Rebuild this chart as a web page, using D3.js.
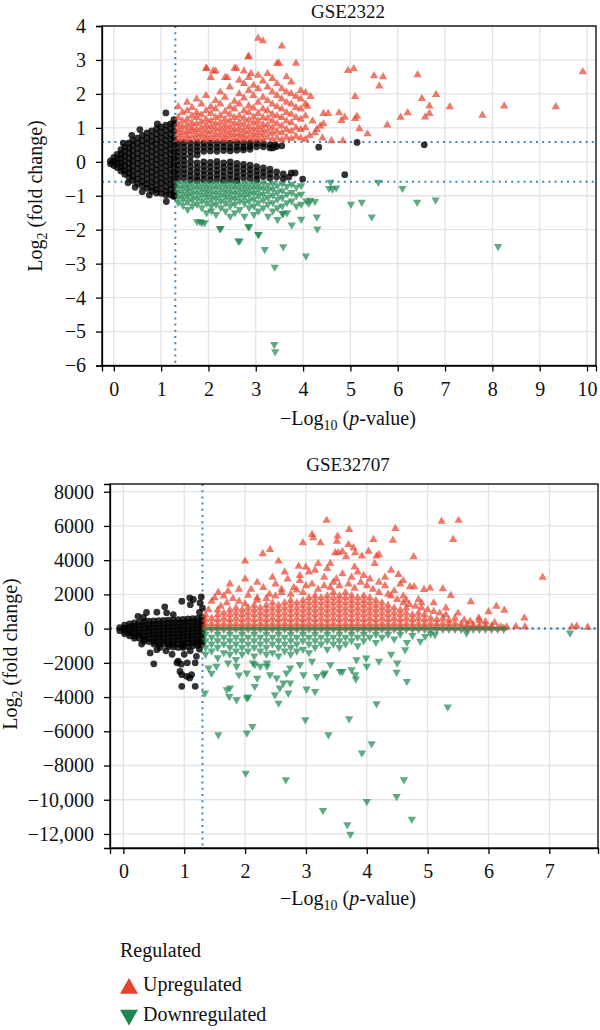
<!DOCTYPE html>
<html lang="en">
<head>
<meta charset="UTF-8">
<title>Volcano plots GSE2322 / GSE32707</title>
<script src="https://d3js.org/d3.v7.min.js"></script>
<style>
  body { margin: 0; background: #fff; }
  svg text { font-family: "Liberation Serif", "Times New Roman", serif; fill: #111; }
</style>
</head>
<body>
<script>
// ---------- data: GSE2322 (x = -log10 p, y = log2 FC) ----------
// dense clouds are written as columns [x, [y, y, ...]], single points as [x, y]
const gse2322NsCols = [
  [-0.07, [0.03, -0.06]],
  [0.0, [0.13, 0.01, -0.11]],
  [0.07, [0.22, 0.09, -0.04, -0.17]],
  [0.15, [0.36, 0.23, 0.1, -0.03, -0.16, -0.27]],
  [0.23, [0.44, 0.3, 0.16, 0.02, -0.12, -0.26, -0.37]],
  [0.32, [0.56, 0.41, 0.26, 0.11, -0.04, -0.19, -0.33, -0.46]],
  [0.4, [0.63, 0.48, 0.33, 0.18, 0.03, -0.12, -0.27, -0.42, -0.55]],
  [0.5, [0.7, 0.55, 0.4, 0.25, 0.1, -0.05, -0.2, -0.35, -0.5, -0.64]],
  [0.6, [0.78, 0.62, 0.47, 0.32, 0.17, 0.02, -0.13, -0.28, -0.43, -0.58, -0.71]],
  [0.7, [0.85, 0.7, 0.55, 0.4, 0.25, 0.1, -0.05, -0.2, -0.35, -0.5, -0.65, -0.78]],
  [0.8, [0.91, 0.75, 0.6, 0.45, 0.3, 0.15, 0.0, -0.15, -0.3, -0.45, -0.6, -0.74, -0.86]],
  [0.9, [0.97, 0.82, 0.67, 0.52, 0.37, 0.22, 0.07, -0.08, -0.23, -0.38, -0.53, -0.68, -0.82, -0.92]],
  [1.0, [1.02, 0.87, 0.72, 0.57, 0.42, 0.27, 0.12, -0.03, -0.18, -0.33, -0.48, -0.63, -0.78, -0.93]],
  [1.1, [1.08, 0.93, 0.78, 0.63, 0.48, 0.33, 0.18, 0.03, -0.12, -0.27, -0.42, -0.57, -0.72, -0.87, -0.98]],
  [1.2, [1.12, 0.97, 0.82, 0.67, 0.52, 0.37, 0.22, 0.07, -0.08, -0.23, -0.38, -0.53, -0.68, -0.83, -0.97]],
  [1.27, [1.1, 0.9, 0.7, 0.5, 0.3, 0.1, -0.1, -0.3, -0.5, -0.7, -0.9, -1.0]],
  [1.35, [0.55, 0.42, 0.29, 0.16, 0.03, -0.1, -0.23, -0.36, -0.49]],
  [1.48, [0.56, 0.43, 0.3, 0.17, 0.04, -0.09, -0.22, -0.35, -0.48]],
  [1.62, [0.55, 0.42, 0.3, 0.16, 0.0, -0.14, -0.28, -0.41, -0.53]],
  [1.76, [0.56, 0.44, 0.32, 0.2, -0.03, -0.17, -0.3, -0.43, -0.54]],
  [1.9, [0.55, 0.43, 0.31, 0.0, -0.13, -0.26, -0.39, -0.52]],
  [2.04, [0.56, 0.44, 0.32, -0.02, -0.15, -0.28, -0.41, -0.53]],
  [2.18, [0.55, 0.43, 0.31, 0.01, -0.12, -0.25, -0.38, -0.51]],
  [2.32, [0.56, 0.44, 0.33, -0.03, -0.16, -0.29, -0.42, -0.54]],
  [2.46, [0.55, 0.42, 0.32, 0.0, -0.13, -0.26, -0.39, -0.52]],
  [2.6, [0.56, 0.44, 0.34, -0.05, -0.18, -0.31, -0.44, -0.55]],
  [2.74, [0.55, 0.43, 0.35, -0.08, -0.21, -0.34, -0.47]],
  [2.88, [0.56, 0.45, 0.37, -0.1, -0.23, -0.36, -0.49]],
  [3.02, [0.55, 0.44, -0.14, -0.27, -0.4, -0.52]],
  [3.16, [0.54, 0.44, -0.18, -0.31, -0.44]],
  [3.3, [0.5, 0.41, -0.22, -0.35, -0.48]],
  [3.44, [0.45, -0.3, -0.45]],
  [3.58, [-0.36, -0.5]],
  [3.75, [-0.33]]
];
const gse2322NsExtra = [
  [1.1, 1.44], [0.55, 0.95], [0.38, 0.78], [1.27, 1.24], [1.11, -1.17], [1.27, -1.02],
  [0.6, -0.88], [0.3, -0.62], [0.92, 1.12], [0.75, -0.98], [0.2, 0.55], [0.45, -0.75],
  [3.36, 0.41], [3.4, 0.5], [4.33, 0.43], [5.14, 0.57], [6.56, 0.5], [4.88, -0.38],
  [3.99, -0.51], [3.83, -0.33], [3.7, -0.45], [3.55, 0.47]
];
const gse2322UpCols = [
  [1.36, [0.66, 0.8, 0.95, 1.1, 1.3, 1.62]],
  [1.45, [0.7, 0.86, 1.02, 1.2, 1.45]],
  [1.55, [0.65, 0.78, 0.92, 1.08, 1.25, 1.5, 1.75]],
  [1.65, [0.72, 0.88, 1.0, 1.15, 1.35, 1.6]],
  [1.75, [0.66, 0.8, 0.95, 1.12, 1.3, 1.45, 1.85]],
  [1.85, [0.7, 0.84, 1.0, 1.18, 1.38, 1.7]],
  [1.95, [0.65, 0.78, 0.93, 1.08, 1.25, 1.5, 1.95, 2.75]],
  [2.05, [0.72, 0.88, 1.04, 1.2, 1.42, 1.62, 2.48]],
  [2.15, [0.66, 0.8, 0.96, 1.12, 1.3, 1.55, 1.8, 2.67]],
  [2.25, [0.7, 0.85, 1.0, 1.17, 1.36, 1.7, 2.05]],
  [2.35, [0.65, 0.78, 0.93, 1.08, 1.25, 1.48, 1.9, 2.48]],
  [2.45, [0.72, 0.86, 1.02, 1.2, 1.4, 1.62, 2.2]],
  [2.55, [0.66, 0.8, 0.95, 1.12, 1.3, 1.55, 1.78, 2.75]],
  [2.65, [0.7, 0.84, 1.0, 1.16, 1.35, 1.7, 2.0, 2.4]],
  [2.75, [0.65, 0.78, 0.93, 1.1, 1.28, 1.5, 1.88, 2.3, 2.67]],
  [2.85, [0.72, 0.88, 1.04, 1.22, 1.45, 1.65, 2.1, 2.48, 3.1]],
  [2.95, [0.66, 0.8, 0.96, 1.14, 1.32, 1.58, 1.95, 2.25]],
  [3.05, [0.7, 0.86, 1.02, 1.2, 1.42, 1.75, 2.15, 2.55, 3.64]],
  [3.15, [0.65, 0.8, 0.95, 1.1, 1.3, 1.55, 1.9, 2.38, 3.56]],
  [3.25, [0.72, 0.9, 1.08, 1.28, 1.5, 1.8, 2.2, 2.6]],
  [3.35, [0.66, 0.84, 1.0, 1.2, 1.4, 1.7, 2.05, 2.45]],
  [3.45, [0.7, 0.9, 1.12, 1.35, 1.62, 1.95, 2.3, 2.9]],
  [3.55, [0.65, 0.85, 1.05, 1.3, 1.55, 1.85, 2.15, 3.41]],
  [3.65, [0.72, 0.95, 1.2, 1.45, 1.75, 2.05, 2.5]],
  [3.75, [0.68, 0.9, 1.15, 1.4, 1.7, 2.0, 2.35]],
  [3.85, [0.75, 1.0, 1.3, 1.6, 1.92, 2.9]],
  [3.95, [0.7, 0.95, 1.25, 1.55, 1.85, 2.1]],
  [4.05, [0.66, 1.0, 1.35, 1.7, 2.03]]
];
const gse2322UpExtra = [
  [4.95, 2.69], [5.07, 2.74], [5.5, 2.53], [5.69, 2.5], [5.61, 2.23], [6.42, 2.56], [9.91, 2.65],
  [5.1, 1.92], [4.16, 1.92], [4.09, 1.63], [4.43, 1.42], [4.53, 1.42], [4.76, 1.44], [4.81, 1.21],
  [4.88, 1.31], [5.1, 1.27], [5.14, 1.34], [5.19, 0.97], [5.36, 0.82], [5.78, 1.08], [6.06, 1.31],
  [6.21, 1.44], [6.51, 1.86], [6.67, 1.64], [6.81, 1.98], [6.67, 1.42], [6.58, 1.32], [7.1, 1.62],
  [7.79, 1.37], [8.25, 1.64], [9.34, 1.62], [4.36, 1.05], [4.29, 0.95], [4.43, 1.12], [4.14, 0.77],
  [4.41, 0.7], [4.6, 0.62], [4.84, 0.62], [4.2, 1.2], [4.25, 0.85], [2.84, 3.09], [3.49, 2.9],
  [1.96, 2.75], [2.1, 2.67], [2.59, 2.75], [2.4, 2.48], [2.9, 2.6]
];
const gse2322DownCols = [
  [1.36, [-0.62, -0.76, -0.9, -1.05, -1.2]],
  [1.46, [-0.66, -0.8, -0.95, -1.1, -1.28]],
  [1.56, [-0.62, -0.75, -0.88, -1.02, -1.18, -1.4]],
  [1.66, [-0.67, -0.82, -0.97, -1.12, -1.3]],
  [1.76, [-0.63, -0.77, -0.92, -1.08, -1.25, -1.76]],
  [1.86, [-0.68, -0.83, -0.98, -1.15, -1.35, -1.79]],
  [1.96, [-0.62, -0.76, -0.9, -1.05, -1.22, -1.5]],
  [2.06, [-0.67, -0.82, -0.97, -1.12, -1.3, -1.45]],
  [2.16, [-0.63, -0.77, -0.92, -1.08, -1.25, -1.55]],
  [2.26, [-0.68, -0.83, -0.98, -1.15, -1.35, -1.96]],
  [2.36, [-0.62, -0.76, -0.9, -1.05, -1.22, -1.45]],
  [2.46, [-0.67, -0.82, -0.97, -1.12, -1.3, -1.6]],
  [2.56, [-0.63, -0.77, -0.92, -1.08, -1.25, -1.5]],
  [2.66, [-0.68, -0.83, -0.98, -1.15, -1.4, -2.33]],
  [2.76, [-0.62, -0.76, -0.9, -1.05, -1.22, -1.6]],
  [2.86, [-0.67, -0.82, -0.97, -1.15, -1.35, -1.91]],
  [2.96, [-0.63, -0.77, -0.92, -1.1, -1.3, -1.55]],
  [3.06, [-0.68, -0.83, -1.0, -1.2, -1.45, -2.14]],
  [3.16, [-0.62, -0.78, -0.95, -1.12, -1.35]],
  [3.26, [-0.68, -0.85, -1.05, -1.25, -1.6]],
  [3.36, [-0.63, -0.8, -0.98, -1.2, -1.45]],
  [3.46, [-0.7, -0.9, -1.1, -1.35, -1.7]],
  [3.56, [-0.64, -0.85, -1.05, -1.3, -1.52]],
  [3.66, [-0.72, -0.95, -1.2, -1.5]],
  [3.76, [-0.66, -0.9, -1.15, -1.86]],
  [3.86, [-0.75, -1.0, -1.3]],
  [3.96, [-0.7, -0.95, -1.25, -1.69]]
];
const gse2322DownExtra = [
  [1.82, -1.76], [1.92, -1.79], [2.24, -1.96], [2.63, -2.33], [3.05, -2.14], [3.19, -2.58],
  [3.58, -2.5], [3.4, -3.1], [3.39, -5.38], [3.41, -5.59], [2.84, -1.91], [3.58, -1.52],
  [4.58, -0.6], [5.59, -0.6], [4.55, -0.78], [4.62, -0.8], [4.7, -0.77], [6.1, -0.78],
  [4.07, -1.15], [4.15, -1.13], [4.25, -1.17], [5.01, -1.25], [5.24, -1.19], [6.41, -1.19],
  [6.8, -1.12], [4.29, -1.62], [5.45, -1.62], [4.3, -1.98], [4.06, -2.77], [8.12, -2.49], [4.12, -1.22]
];

// ---------- data: GSE32707 ----------
const gse32707NsCols = [
  [-0.06, [60, -120]],
  [0.02, [200, 20, -160, -300]],
  [0.1, [280, 100, -80, -260, -420]],
  [0.18, [330, 140, -50, -240, -420, -560]],
  [0.26, [380, 190, 0, -190, -380, -560]],
  [0.34, [400, 200, 0, -200, -400, -600, -740]],
  [0.42, [430, 230, 30, -170, -370, -570, -760]],
  [0.5, [450, 250, 50, -150, -350, -550, -750, -900]],
  [0.58, [460, 260, 60, -140, -340, -540, -740, -920]],
  [0.66, [480, 280, 80, -120, -320, -520, -720, -900]],
  [0.74, [500, 300, 100, -100, -300, -500, -700, -900, -1050]],
  [0.82, [500, 300, 100, -100, -300, -500, -700, -900, -1080]],
  [0.9, [520, 320, 120, -80, -280, -480, -680, -880, -1100]],
  [0.98, [540, 340, 140, -60, -260, -460, -660, -860, -1100]],
  [1.06, [560, 360, 160, -40, -240, -440, -640, -840, -1050]],
  [1.14, [580, 380, 180, -20, -220, -420, -620, -820, -1000]],
  [1.22, [600, 400, 200, 0, -200, -400, -600, -800, -980]],
  [1.29, [650, 450, 250, 50, -150, -350, -550, -750, -900]]
];
const gse32707NsExtra = [
  [0.68, 1270], [0.96, 1600], [1.1, 1400], [1.15, 1700], [1.28, 1850], [1.09, 1800], [1.26, 1500],
  [1.3, 1200], [1.25, 950], [0.38, 940], [0.55, 960], [0.71, 920], [0.24, 720], [0.33, 650],
  [0.82, 820], [0.5, -2060], [0.88, -2000], [0.95, -2080], [1.05, -2000], [1.18, -2000],
  [0.96, -2690], [1.12, -2690], [0.96, -3370], [1.18, -3370], [1.09, -2880], [0.44, -1420],
  [0.55, -1230], [0.9, -1900], [0.93, -2500], [1.04, -2790], [0.98, -1030], [1.2, -1620],
  [0.7, -1300], [0.8, -1500], [1.1, -1300], [1.25, -1200], [0.3, -900], [0.6, -1100], [1.0, -1500]
];
const gse32707UpCols = [
  [1.35, [30, 260, 520, 800]], [1.45, [30, 300, 600]], [1.55, [30, 260, 520, 800, 1080]],
  [1.65, [30, 300, 600, 900]], [1.75, [30, 260, 520, 800, 1080]], [1.85, [30, 300, 600, 900, 1200]],
  [1.95, [30, 260, 520, 800, 1080]], [2.05, [30, 300, 600, 900, 1200]],
  [2.15, [30, 260, 520, 800, 1080, 1360]], [2.25, [30, 300, 600, 900, 1200]],
  [2.35, [30, 260, 520, 800, 1080, 1360]], [2.45, [30, 300, 600, 900, 1200, 1500]],
  [2.55, [30, 260, 520, 800, 1080, 1360]], [2.65, [30, 300, 600, 900, 1200, 1500]],
  [2.75, [30, 260, 520, 800, 1080, 1360, 1640]], [2.85, [30, 300, 600, 900, 1200, 1500]],
  [2.95, [30, 260, 520, 800, 1080, 1360, 1640]], [3.05, [30, 300, 600, 900, 1200, 1500, 1800]],
  [3.15, [30, 260, 520, 800, 1080, 1360, 1640, 1920]], [3.25, [30, 300, 600, 900, 1200, 1500, 1800]],
  [3.35, [30, 260, 520, 800, 1080, 1360, 1640, 1920]], [3.45, [30, 300, 600, 900, 1200, 1500, 1800, 2100]],
  [3.55, [30, 260, 520, 800, 1080, 1360, 1640, 1920]], [3.65, [30, 300, 600, 900, 1200, 1500, 1800, 2100]],
  [3.75, [30, 260, 520, 800, 1080, 1360, 1640, 1920]], [3.85, [30, 300, 600, 900, 1200, 1500, 1800]],
  [3.95, [30, 260, 520, 800, 1080, 1360, 1640, 1920]], [4.05, [30, 300, 600, 900, 1200, 1500, 1800]],
  [4.15, [30, 260, 520, 800, 1080, 1360, 1640]], [4.25, [30, 300, 600, 900, 1200, 1500]],
  [4.35, [30, 260, 520, 800, 1080, 1360]], [4.45, [30, 300, 600, 900, 1200]],
  [4.55, [30, 260, 520, 800, 1080]], [4.65, [30, 300, 600, 900, 1200]],
  [4.75, [30, 260, 520, 800]], [4.85, [30, 300, 600, 900]], [4.95, [30, 260, 520, 800]],
  [5.05, [30, 300, 600]], [5.15, [30, 260, 520]], [5.25, [30, 300, 600]], [5.35, [30, 260, 480]],
  [5.45, [30, 300]], [5.55, [30, 260]], [5.65, [30, 250]], [5.75, [30, 220]], [5.85, [30, 200]],
  [5.95, [30, 180]], [6.05, [30, 150]], [6.15, [30]], [6.25, [30]]
];
const gse32707UpExtra = [
  [3.34, 6320], [3.71, 5790], [4.47, 5850], [4.11, 5200], [4.43, 5160], [3.52, 5400], [3.51, 5100],
  [3.48, 4430], [3.53, 4430], [3.7, 4910], [3.78, 4720], [3.81, 4430], [4.03, 4520], [3.92, 4230],
  [4.16, 4230], [4.13, 3800], [4.2, 4320], [4.77, 4190], [4.52, 3160], [5.23, 6270], [5.51, 6320],
  [5.42, 5200], [6.89, 3000], [4.71, 2440], [4.78, 2440], [4.94, 2280], [5.04, 2360], [5.25, 2320],
  [5.38, 1930], [5.71, 1560], [6.13, 1300], [6.0, 980], [6.26, 1070], [6.59, 620], [5.84, 620],
  [5.85, 470], [3.1, 5500], [3.12, 5300], [2.95, 5010], [3.24, 5010], [2.29, 4370], [2.41, 4620],
  [2.0, 3940], [2.55, 3940], [2.88, 3640], [3.0, 3600], [3.2, 3800], [3.35, 3500], [3.05, 3300],
  [3.6, 4500], [3.66, 4200], [1.56, 2100], [1.65, 1900], [1.72, 2180], [1.8, 1750], [1.5, 1800],
  [2.05, 1950], [2.2, 1800], [2.4, 2000], [2.6, 2100], [2.8, 2400], [2.7, 2900], [2.9, 2800],
  [3.1, 2600], [3.3, 3000], [3.45, 2700], [3.6, 3200], [3.75, 3000], [3.9, 2700], [4.05, 2900],
  [4.3, 2500], [4.45, 2200], [4.6, 1900], [4.85, 1700], [5.1, 1500], [5.3, 1200], [5.5, 900],
  [4.9, 1500], [4.65, 1650], [4.4, 1900], [4.2, 2100], [2.3, 2400], [1.9, 2300], [1.45, 1600],
  [2.5, 2600], [2.1, 2300], [6.2, 100], [6.3, 90], [6.45, 120], [6.6, 110], [7.37, 100],
  [7.45, 130], [7.63, 80],
  [1.4, 1100], [1.6, 1300], [1.7, 1500], [1.9, 1600], [2.0, 1450], [2.2, 1650], [2.35, 1750],
  [2.5, 1900], [2.6, 2300], [2.75, 2000], [2.85, 2250], [2.95, 2100], [3.0, 2500], [3.2, 2300],
  [3.3, 2500], [3.4, 2400], [3.5, 2900], [3.55, 2500], [3.7, 2600], [3.8, 2350], [3.85, 3300],
  [3.95, 3100], [4.0, 2500], [4.1, 2300], [4.2, 2700], [4.3, 3000], [4.35, 2000], [4.5, 1700],
  [4.55, 2600], [4.6, 1500], [4.7, 1400], [4.8, 1300], [4.9, 1200], [5.0, 1100], [5.1, 1000],
  [5.2, 900], [5.3, 800], [5.45, 600], [5.6, 500], [5.7, 430], [5.95, 400], [6.1, 350],
  [2.2, 2700], [2.45, 3000], [2.65, 3300], [2.9, 3100], [3.15, 3400], [3.4, 3800], [3.8, 3600],
  [4.4, 3400], [4.6, 2800], [1.75, 2600], [2.0, 2900]
];
const gse32707DownCols = [
  [1.35, [-30, -330, -700, -1100, -1500]], [1.45, [-30, -500, -900, -1300]],
  [1.55, [-30, -330, -700, -1100, -1700]], [1.65, [-30, -500, -900, -1400]],
  [1.75, [-30, -330, -700, -1100, -1500]], [1.85, [-30, -500, -900, -1300, -1800]],
  [1.95, [-30, -330, -700, -1100, -1500]], [2.05, [-30, -500, -900, -1300]],
  [2.15, [-30, -330, -700, -1100, -1600]], [2.25, [-30, -500, -900, -1300]],
  [2.35, [-30, -330, -700, -1100, -1500]], [2.45, [-30, -500, -900, -1400]],
  [2.55, [-30, -330, -700, -1100, -1600]], [2.65, [-30, -500, -900, -1300]],
  [2.75, [-30, -330, -700, -1100, -1500]], [2.85, [-30, -500, -900, -1300]],
  [2.95, [-30, -330, -700, -1200]], [3.05, [-30, -500, -900, -1400]],
  [3.15, [-30, -330, -700, -1100]], [3.25, [-30, -500, -900]], [3.35, [-30, -330, -700, -1200]],
  [3.45, [-30, -500, -900]], [3.55, [-30, -330, -700, -1100]], [3.65, [-30, -500, -900]],
  [3.75, [-30, -330, -700]], [3.85, [-30, -500, -1000]], [3.95, [-30, -330, -700]],
  [4.05, [-30, -500]], [4.15, [-30, -330, -800]], [4.25, [-30, -500]], [4.35, [-30, -330]],
  [4.45, [-30, -600]], [4.55, [-30, -330]], [4.65, [-30]], [4.75, [-30, -400]], [4.85, [-30]],
  [4.95, [-30]], [5.05, [-30, -300]], [5.15, [-30]], [5.25, [-30]], [5.35, [-30]], [5.45, [-30]],
  [5.55, [-30]], [5.65, [-30]], [5.75, [-30]], [5.85, [-30]], [5.95, [-30]], [6.05, [-30]],
  [6.15, [-30]], [6.25, [-30]]
];
const gse32707DownExtra = [
  [1.34, -3760], [1.56, -6200], [2.03, -6100], [2.12, -5710], [2.01, -8440], [2.67, -8830],
  [1.74, -3960], [1.75, -3470], [1.86, -4150], [2.05, -3990], [2.16, -3370], [2.41, -2690],
  [2.52, -2880], [2.57, -3470], [2.55, -4350], [2.49, -3860], [2.71, -3760], [2.63, -3180],
  [2.68, -2590], [2.36, -2200], [2.25, -2200], [2.74, -2300], [1.53, -2200], [1.72, -2000],
  [1.86, -2200], [2.03, -2590], [2.16, -2100], [2.96, -2690], [3.01, -3530], [3.15, -3670],
  [3.29, -2690], [3.31, -2590], [3.6, -2500], [3.81, -2690], [3.82, -2940], [4.49, -2550],
  [4.66, -3080], [4.16, -4390], [5.33, -4580], [2.99, -5320], [3.71, -5260], [3.37, -6200],
  [4.08, -6720], [3.92, -7270], [4.61, -8830], [4.49, -9810], [4.0, -10100], [3.28, -10630],
  [4.74, -11130], [3.68, -11460], [3.73, -12010], [1.7, -3570], [2.03, -4050], [2.74, -3180],
  [3.18, -2790], [3.56, -2500], [3.75, -2400], [2.13, -2000], [2.36, -2000], [3.99, -1710],
  [3.83, -1810], [4.66, -800], [4.63, -1230], [4.88, -740], [4.96, -450], [5.12, -350],
  [5.64, -250], [7.34, -250], [1.45, -2600], [1.4, -2300], [1.9, -2700], [2.2, -2900],
  [2.9, -2100], [3.4, -2100], [3.1, -1900], [4.2, -1900], [4.4, -1500], [4.5, -2000], [4.0, -2200]
];

const gse2322XTicks = d3.range(0, 11);
const gse2322YTicks = [4, 3, 2, 1, 0, -1, -2, -3, -4, -5, -6];
const gse32707XTicks = d3.range(0, 8);
const gse32707YTicks = [8000, 6000, 4000, 2000, 0, -2000, -4000, -6000, -8000, -10000, -12000];
const pCut = 1.3;          // -log10(0.05)
const fcCut = [0.585, -0.585];

const legendItems = ["Upregulated", "Downregulated"];
const colors = { ns: "#000000", up: "#e8412c", down: "#1d8750" };

// ---------- drawing ----------
const flat = cols => cols.flatMap(([x, ys]) => ys.map(y => [x, y]));
const minus = "\u2212";
const FONT = 20;

const svg = d3.select("body").append("svg")
  .attr("width", 600).attr("height", 1030);

function fmtY(d) {
  if (d === 0) return "0";
  const a = Math.abs(d);
  const s = a >= 10000 ? d3.format(",")(a) : String(a);
  return (d < 0 ? minus : "") + s;
}

function drawPanel(p) {
  const x = d3.scaleLinear().domain(p.xDomain).range([p.left, p.right]);
  const y = d3.scaleLinear().domain(p.yDomain).range([p.bottom, p.top]);
  const g = svg.append("g");

  // grid
  g.append("g").selectAll("line").data(p.xTicks).join("line")
    .attr("x1", d => x(d)).attr("x2", d => x(d))
    .attr("y1", p.top).attr("y2", p.bottom)
    .attr("stroke", "#e2e2e2").attr("stroke-width", 1.3);
  g.append("g").selectAll("line").data(p.yTicks).join("line")
    .attr("y1", d => y(d)).attr("y2", d => y(d))
    .attr("x1", p.left).attr("x2", p.right)
    .attr("stroke", "#e2e2e2").attr("stroke-width", 1.3);

  // thresholds
  const th = g.append("g").attr("stroke", "#3b87c6").attr("stroke-width", 2)
    .attr("stroke-dasharray", "2,4.2");
  th.append("line").attr("x1", x(pCut)).attr("x2", x(pCut))
    .attr("y1", p.top).attr("y2", p.bottom);
  th.selectAll("line.h").data(fcCut).join("line").attr("class", "h")
    .attr("x1", p.left).attr("x2", p.right)
    .attr("y1", d => y(d)).attr("y2", d => y(d));

  // points
  const pts = g.append("g");
  pts.append("g").selectAll("circle").data(p.ns).join("circle")
    .attr("cx", d => x(d[0])).attr("cy", d => y(d[1])).attr("r", 3.4)
    .attr("fill", colors.ns).attr("fill-opacity", 0.8);
  const tri = d3.symbol().type(d3.symbolTriangle).size(30);
  pts.append("g").selectAll("path").data(p.up).join("path")
    .attr("d", tri)
    .attr("transform", d => `translate(${x(d[0])},${y(d[1])})`)
    .attr("fill", colors.up).attr("fill-opacity", 0.7);
  pts.append("g").selectAll("path").data(p.down).join("path")
    .attr("d", tri)
    .attr("transform", d => `translate(${x(d[0])},${y(d[1])}) rotate(180)`)
    .attr("fill", colors.down).attr("fill-opacity", 0.7);

  // frame
  g.append("rect").attr("x", p.left).attr("y", p.top)
    .attr("width", p.right - p.left).attr("height", p.bottom - p.top)
    .attr("fill", "none").attr("stroke", "#000").attr("stroke-width", 1.3);

  // axes
  const ax = g.append("g").attr("transform", `translate(0,${p.bottom})`)
    .call(d3.axisBottom(x).tickValues(p.xTicks).tickSize(6).tickSizeOuter(6).tickPadding(10)
      .tickFormat(d3.format("d")));
  const ay = g.append("g").attr("transform", `translate(${p.left},0)`)
    .call(d3.axisLeft(y).tickValues(p.yTicks).tickSize(6).tickSizeOuter(6).tickPadding(10)
      .tickFormat(fmtY));
  [ax, ay].forEach(a => {
    a.selectAll("path, line").attr("stroke", "#000").attr("stroke-width", 1.3);
    a.selectAll("text").attr("font-size", FONT)
      .style("font-family", "'Liberation Serif', serif").attr("fill", "#111");
  });

  // title
  g.append("text").attr("x", 348).attr("y", p.titleY)
    .attr("text-anchor", "middle").attr("font-size", 19).text(p.title);

  // x label: −Log10 (p-value)
  const xl = g.append("text").attr("x", 348).attr("y", p.xLabelY)
    .attr("text-anchor", "middle").attr("font-size", FONT);
  xl.append("tspan").text(minus + "Log");
  xl.append("tspan").attr("dy", 5).attr("font-size", 14).text("10");
  xl.append("tspan").attr("dy", -5).text(" (");
  xl.append("tspan").attr("font-style", "italic").text("p");
  xl.append("tspan").text("-value)");

  // y label: Log2 (fold change)
  const yl = g.append("text")
    .attr("transform", `translate(${p.yLabelX},${p.yLabelY}) rotate(-90)`)
    .attr("text-anchor", "middle").attr("font-size", FONT);
  yl.append("tspan").text("Log");
  yl.append("tspan").attr("dy", 5).attr("font-size", 14).text("2");
  yl.append("tspan").attr("dy", -5).text(" (fold change)");
}

drawPanel({
  title: "GSE2322", titleY: 17.5, xLabelY: 425, yLabelX: 42, yLabelY: 196,
  left: 102, right: 596, top: 26, bottom: 365.5,
  xDomain: [-0.25, 10.19], yDomain: [-6, 4],
  xTicks: gse2322XTicks, yTicks: gse2322YTicks,
  ns: flat(gse2322NsCols).concat(gse2322NsExtra),
  up: flat(gse2322UpCols).concat(gse2322UpExtra),
  down: flat(gse2322DownCols).concat(gse2322DownExtra)
});

drawPanel({
  title: "GSE32707", titleY: 471, xLabelY: 905, yLabelX: 17, yLabelY: 654,
  left: 110, right: 598, top: 484, bottom: 848,
  xDomain: [-0.22, 7.8], yDomain: [-12820, 8450],
  xTicks: gse32707XTicks, yTicks: gse32707YTicks,
  ns: flat(gse32707NsCols).concat(gse32707NsExtra),
  up: flat(gse32707UpCols).concat(gse32707UpExtra),
  down: flat(gse32707DownCols).concat(gse32707DownExtra)
});

// legend
const lg = svg.append("g");
lg.append("text").attr("x", 120).attr("y", 957).attr("font-size", FONT).text("Regulated");
const bigTri = d3.symbol().type(d3.symbolTriangle).size(140);
lg.selectAll("path").data(legendItems).join("path")
  .attr("d", bigTri)
  .attr("transform", (d, i) => i === 0 ? "translate(129,988.5)" : "translate(129,1015) rotate(180)")
  .attr("fill", (d, i) => i === 0 ? colors.up : colors.down);
lg.selectAll("text.item").data(legendItems).join("text").attr("class", "item")
  .attr("x", 143).attr("y", (d, i) => i === 0 ? 991 : 1021)
  .attr("font-size", FONT).text(d => d);
</script>
</body>
</html>
